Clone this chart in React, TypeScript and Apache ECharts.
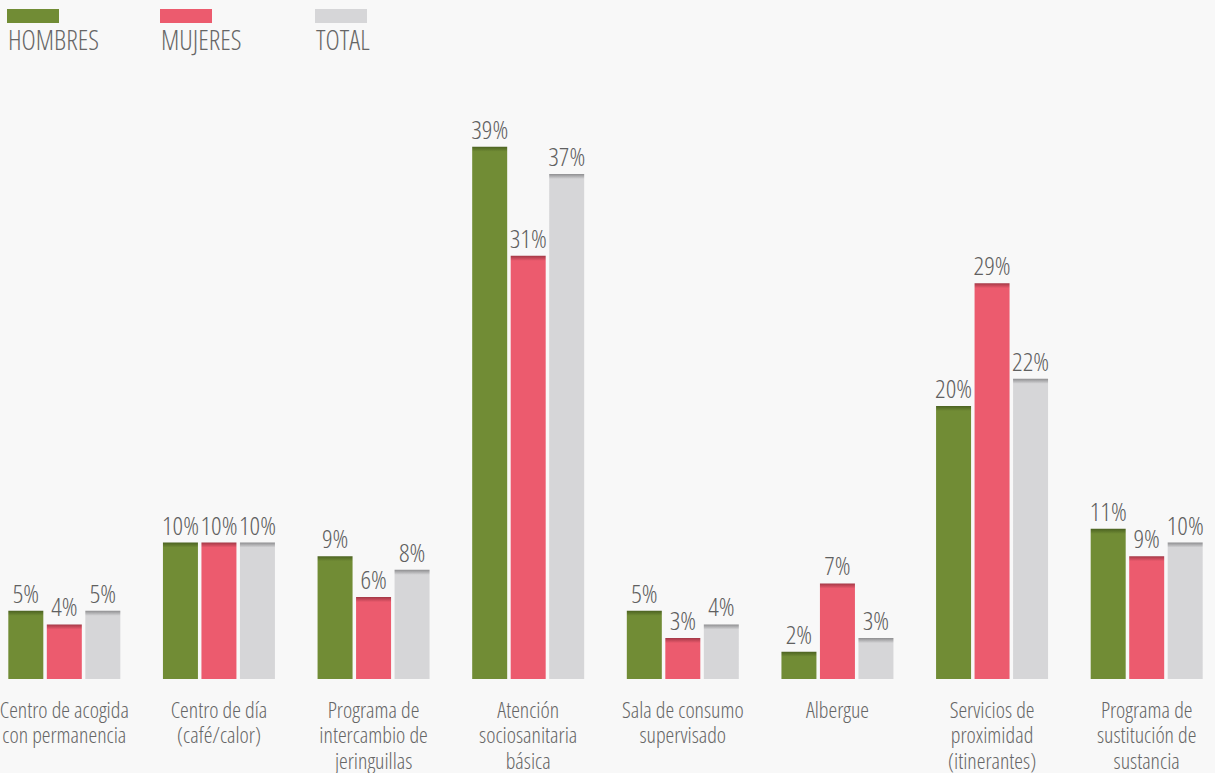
import React, { useEffect, useRef } from "react";
import * as echarts from "echarts";

const categories = [
  "Centro de acogida\ncon permanencia",
  "Centro de día\n(café/calor)",
  "Programa de\nintercambio de\njeringuillas",
  "Atención\nsociosanitaria\nbásica",
  "Sala de consumo\nsupervisado",
  "Albergue",
  "Servicios de\nproximidad\n(itinerantes)",
  "Programa de\nsustitución de\nsustancia",
];

const seriesNames = ["HOMBRES", "MUJERES", "TOTAL"];
const hombres = [5, 10, 9, 39, 5, 2, 20, 11];
const mujeres = [4, 10, 6, 31, 3, 7, 29, 9];
const total = [5, 10, 8, 37, 4, 3, 22, 10];

const baseColors = ["#718c35", "#ec5b6e", "#d6d6d8"];
const topColors = ["#4b6221", "#a33846", "#8e8e90"];

const FONT = "'Open Sans', sans-serif";

const OFFSET_X = 13;
const CHART_W = 1237;
const CHART_H = 773;
const Y_MAX = 40;
const GRID_TOP = 133;
const GRID_BOTTOM = 94;
const PX_PER_UNIT = (CHART_H - GRID_TOP - GRID_BOTTOM) / Y_MAX;
const CAP_PX = 5;

function itemColor(v: number, idx: number) {
  const h = v * PX_PER_UNIT;
  const f = Math.min(0.5, CAP_PX / h);
  return new echarts.graphic.LinearGradient(0, 0, 0, 1, [
    { offset: 0, color: topColors[idx] },
    { offset: f, color: baseColors[idx] },
    { offset: 1, color: baseColors[idx] },
  ]);
}

export default function App() {
  const ref = useRef<HTMLDivElement>(null);
  useEffect(() => {
    if (!ref.current) return;
    const chart = echarts.init(ref.current, null, { renderer: "svg" });
    const allData = [hombres, mujeres, total];
    const legendX = [7, 160, 315];
    chart.setOption({
      animation: false,
      backgroundColor: "#f8f8f8",
      grid: {
        left: 0,
        right: 0,
        top: GRID_TOP,
        bottom: GRID_BOTTOM,
        containLabel: false,
        outerBoundsMode: "none",
      },
      xAxis: {
        type: "category",
        data: categories,
        axisLine: { show: false },
        axisTick: { show: false },
        axisLabel: {
          interval: 0,
          hideOverlap: false,
          margin: 17,
          color: "#666",
          fontFamily: FONT,
          fontWeight: 300,
          fontSize: 22,
          lineHeight: 25.5,
          align: "center",
          verticalAlign: "top",
        },
      },
      yAxis: {
        type: "value",
        min: 0,
        max: Y_MAX,
        show: false,
        splitLine: { show: false },
      },
      graphic: seriesNames.flatMap((name, i) => [
        {
          type: "rect",
          left: legendX[i] + OFFSET_X,
          top: 9,
          shape: { width: 52, height: 14 },
          style: { fill: baseColors[i] },
        },
        {
          type: "text",
          left: legendX[i] + OFFSET_X + 1,
          top: 26,
          style: {
            text: name,
            fill: "#666",
            font: `300 27px ${FONT}`,
          },
        },
      ]),
      series: allData.map((arr, i) => ({
        name: seriesNames[i],
        type: "bar",
        barWidth: 35,
        barGap: "10%",
        data: arr.map((v) => ({ value: v, itemStyle: { color: itemColor(v, i) } })),
        label: {
          show: true,
          position: "top",
          distance: 5,
          formatter: "{c}%",
          color: "#606060",
          fontFamily: FONT,
          fontWeight: 300,
          fontSize: 26,
        },
      })),
    });
    return () => chart.dispose();
  }, []);
  return (
    <div style={{ position: "fixed", left: 0, top: 0, width: 1215, height: CHART_H, overflow: "hidden", background: "#f8f8f8" }}>
      <style>{`#chart-root text { font-stretch: 75% !important; }`}</style>
      <div
        id="chart-root"
        ref={ref}
        style={{ position: "absolute", left: -OFFSET_X, top: 0, width: CHART_W, height: CHART_H }}
      />
    </div>
  );
}
